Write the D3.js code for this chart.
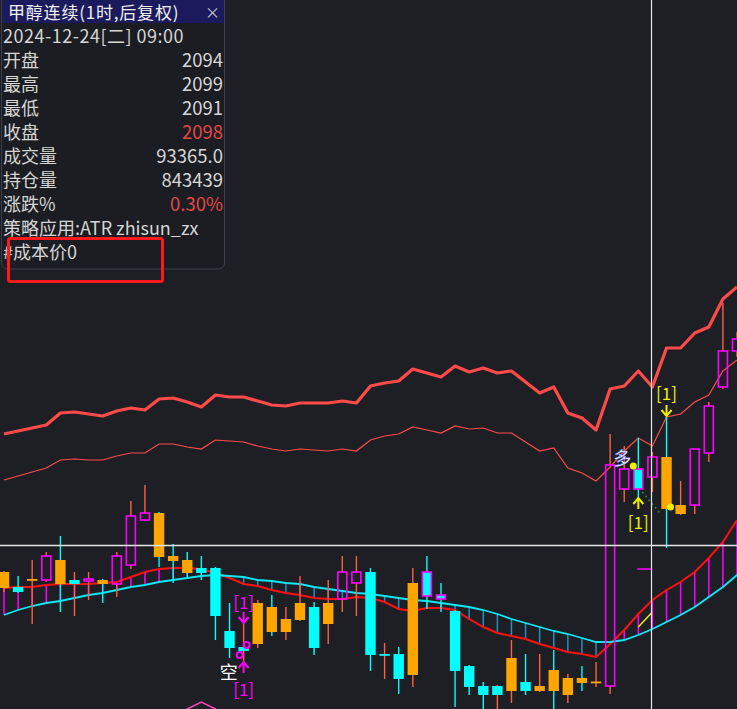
<!DOCTYPE html>
<html><head><meta charset="utf-8">
<script src="https://cdn.jsdelivr.net/npm/d3@7"></script>
<style>html,body{margin:0;padding:0;background:#1e1f24;overflow:hidden}svg{display:block}</style>
</head><body><svg id="c" width="737" height="709"></svg>
<script>
// ---------- data ----------
const opens  = [2075.0,2072.0,2073.6,2073.4,2077.4,2073.4,2073.2,2073.4,2072.6,2076.4,2085.4,2086.8,2078.2,2077.4,2075.8,2075.8,2063.2,2060.0,2068.8,2068.0,2065.6,2068.8,2068.0,2068.8,2069.6,2072.8,2075.0,2058.6,2058.6,2072.8,2070.2,2069.6,2067.2,2056.2,2052.2,2052.2,2057.8,2053.0,2052.2,2055.4,2053.8,2053.8,2053.1,2052.2,2091.6,2095.6,2094,2098.0,2088.4,2088.4,2098.8,2112.0,2119.2];
const highs  = [2075.2,2074.2,2077.4,2079.0,2082.2,2075.0,2075.0,2073.6,2079.0,2089.2,2092.4,2087.0,2080.6,2079.0,2078.2,2076.0,2068.8,2064.8,2069.4,2070.4,2068.0,2074.2,2069.0,2073.4,2078.2,2078.2,2075.8,2060.8,2060.0,2075.8,2078.2,2072.8,2067.4,2056.4,2053.0,2052.4,2061.4,2058.6,2058.6,2059.4,2054.6,2056.2,2057.0,2102.6,2100.2,2101.8,2099,2106.0,2093.2,2099.6,2109.0,2128.8,2123.0];
const lows   = [2071.0,2070.8,2064.6,2073.0,2067.0,2066.2,2069.4,2068.8,2070.0,2075.6,2085.2,2076.0,2072.8,2074.0,2073.4,2061.4,2057.8,2057.0,2059.8,2062.2,2061.4,2065.2,2058.4,2060.6,2067.0,2066.2,2055.2,2053.6,2050.6,2052.0,2067.6,2067.0,2048.0,2050.4,2047.6,2047.6,2048.8,2050.4,2051.0,2047.0,2048.8,2051.2,2052.0,2050.6,2089.0,2089.8,2091,2079.8,2086.4,2086.6,2097.0,2111.6,2118.0];
const closes = [2071.8,2071.0,2073.4,2078.2,2072.6,2072.6,2073.6,2072.6,2078.2,2086.2,2086.8,2078.0,2077.2,2074.8,2074.8,2066.2,2059.8,2059.2,2060.6,2063.0,2063.0,2065.4,2059.8,2064.6,2075.0,2075.0,2058.4,2058.4,2053.6,2054.4,2075.0,2070.4,2055.2,2052.0,2050.4,2050.4,2051.2,2051.2,2051.2,2051.2,2050.4,2052.8,2052.9,2096.4,2095.6,2091.6,2098,2087.6,2086.6,2099.6,2108.2,2119.2,2121.6];
// body style: O = orange filled, C = cyan filled, M = magenta hollow, MC = magenta frame cyan fill
const bodyStyle = ["O","C","O","M","O","C","M","O","M","M","M","O","O","O","C","C","C","C","O","O","O","O","C","O","M","M","C","C","C","O","MC","MC","C","C","C","C","O","C","O","O","O","O","O","M","M","MC","M","O","O","M","M","M","M"];
// wick colour: r = orange-red, c = cyan
const wickStyle = ["r","c","r","r","c","r","r","c","r","r","r","c","c","c","c","c","c","r","r","c","r","r","c","r","r","r","c","r","c","r","c","c","c","c","c","r","r","c","r","c","r","c","r","r","r","c","r","c","r","r","r","r","r"];
const atrUpper = [2102.6,2103.2,2103.8,2104.4,2106.8,2107.0,2106.6,2106.2,2107.2,2107.8,2107.4,2109.6,2109.8,2109.0,2108.0,2110.4,2110.0,2110.0,2109.2,2108.4,2108.2,2108.8,2108.8,2108.8,2109.2,2108.8,2112.2,2112.8,2113.2,2115.6,2114.8,2114.0,2116.2,2115.0,2115.8,2114.8,2115.2,2113.0,2110.8,2112.0,2106.8,2105.8,2103.4,2111.6,2112.2,2115.2,2112.0,2119.8,2119.8,2122.8,2124.0,2129.6,2132.0];
const atrLower = [2093.4,2094.2,2095.0,2095.8,2097.4,2097.6,2097.4,2097.4,2098.2,2098.8,2098.8,2100.6,2100.6,2100.0,2099.6,2101.4,2101.2,2101.0,2100.2,2099.6,2099.2,2099.6,2099.4,2099.2,2099.6,2099.2,2101.4,2102.2,2102.6,2104.0,2103.4,2102.8,2104.2,2103.6,2103.8,2102.8,2102.8,2101.0,2099.2,2099.8,2095.8,2094.8,2093.2,2096.0,2099.2,2101.8,2100.2,2106.0,2106.6,2109.0,2110.4,2115.2,2117.4];
const maRed  = [2071.8,2072.0,2072.0,2072.4,2072.6,2072.6,2072.6,2072.8,2073.0,2074.0,2075.0,2075.6,2075.8,2075.8,2075.6,2074.8,2073.8,2072.6,2072.2,2071.4,2070.8,2070.4,2069.8,2069.6,2069.6,2070.0,2069.8,2069.0,2067.6,2067.2,2067.8,2067.8,2067.4,2065.6,2064.0,2062.8,2062.2,2061.6,2060.6,2059.8,2059.0,2058.6,2058.0,2060.6,2063.4,2066.6,2069.4,2071.4,2073.0,2075.0,2077.8,2081.0,2085.4];
const maCyan = [2066.4,2067.4,2068.2,2068.8,2069.2,2069.8,2070.4,2070.8,2071.4,2072.0,2072.4,2073.0,2073.4,2073.8,2074.2,2074.4,2074.2,2074.0,2073.4,2073.2,2072.8,2072.6,2072.0,2071.6,2071.2,2070.8,2070.6,2070.2,2069.8,2069.4,2069.2,2068.8,2068.4,2068.0,2067.4,2066.6,2065.6,2064.8,2064.0,2063.2,2062.6,2061.8,2061.0,2061.0,2061.4,2062.4,2063.6,2065.0,2066.4,2068.0,2070.0,2072.0,2074.4];
const pinkLine = [null,null,null,null,null,null,null,null,null,null,null,null,2046.0,2047.6,2049.0,2047.6,2046.0,null,null,null,null,null,null,null,null,null,null,null,null,null,null,null,null,null,null,null,null,null,null,null,null,null,null,null,null,null,null,null,null,null,null,null,null];

const titleText = "甲醇连续(1时,后复权)";
const dateText = "2024-12-24[二] 09:00";
const infoLabels = ["开盘","最高","最低","收盘","成交量","持仓量","涨跌%"];
const infoValues = ["2094","2099","2091","2098","93365.0","843439","0.30%"];
const infoRed    = [false,false,false,true,false,false,true];
const strategyText = "策略应用:ATR zhisun_zx";
const costText = "#成本价0";
const crossIndex = 46, crossPrice = 2080.4;

// ---------- setup ----------
const W = 737, H = 709;
const svg = d3.select("#c");
const BG = "#1e1f24";
svg.append("rect").attr("width", W).attr("height", H).attr("fill", BG);
const n = closes.length;
const x = d3.scaleLinear().domain([0, n - 1]).range([4, 737]);
const y = d3.scaleLinear().domain([2047.6, 2189.4]).range([709, 0]);
const idx = d3.range(n);

const ORANGE = "#ffa500", CYAN = "#00ffff", MAG = "#ff00ff", WRED = "#ff6040";

// ATR lines
const lineGen = arr => d3.line().defined(i => arr[i] != null).x(i => x(i)).y(i => y(arr[i]));
svg.append("path").attr("d", lineGen(atrUpper)(idx)).attr("fill", "none")
  .attr("stroke", "#ff4a4a").attr("stroke-width", 3.2).attr("stroke-linejoin", "round");
svg.append("path").attr("d", lineGen(atrLower)(idx)).attr("fill", "none")
  .attr("stroke", "#ff4a4a").attr("stroke-width", 1.2);
svg.append("path").attr("d", lineGen(pinkLine)(idx)).attr("fill", "none")
  .attr("stroke", "#ff40c0").attr("stroke-width", 1.5);

// hatch between red and cyan lines
svg.append("g").selectAll("line").data(idx).join("line")
  .attr("x1", i => x(i)).attr("x2", i => x(i))
  .attr("y1", i => y(maRed[i])).attr("y2", i => y(maCyan[i]))
  .attr("stroke", i => maRed[i] > maCyan[i] ? MAG : "#1f8fc4").attr("stroke-width", 1.5);

svg.append("path").attr("d", lineGen(maRed)(idx)).attr("fill", "none")
  .attr("stroke", "#ff1010").attr("stroke-width", 2);
svg.append("path").attr("d", lineGen(maCyan)(idx)).attr("fill", "none")
  .attr("stroke", "#10e8f8").attr("stroke-width", 1.8);

// candles
const cg = svg.append("g");
idx.forEach(i => {
  const o = opens[i], c = closes[i], h = highs[i], l = lows[i];
  const cx = x(i);
  const top = y(Math.max(o, c)), bot = y(Math.min(o, c));
  const wc = wickStyle[i] === "c" ? CYAN : WRED;
  const st = bodyStyle[i];
  if (st === "M") {
    cg.append("line").attr("x1", cx).attr("x2", cx).attr("y1", y(h)).attr("y2", top).attr("stroke", wc).attr("stroke-width", 1.4);
    cg.append("line").attr("x1", cx).attr("x2", cx).attr("y1", bot).attr("y2", y(l)).attr("stroke", wc).attr("stroke-width", 1.4);
    const hh = Math.max(1.5, bot - top);
    cg.append("rect").attr("x", cx - 4.5).attr("width", 9).attr("y", top).attr("height", hh)
      .attr("fill", "none").attr("stroke", MAG).attr("stroke-width", 1.6);
  } else {
    cg.append("line").attr("x1", cx).attr("x2", cx).attr("y1", y(h)).attr("y2", y(l)).attr("stroke", wc).attr("stroke-width", 1.4);
    const hh = Math.max(1.8, bot - top);
    const fill = st === "O" ? ORANGE : CYAN;
    if (st === "MC") {
      cg.append("rect").attr("x", cx - 4.5).attr("width", 9).attr("y", top).attr("height", hh)
        .attr("fill", CYAN).attr("stroke", MAG).attr("stroke-width", 1.6);
    } else {
      cg.append("rect").attr("x", cx - 5.2).attr("width", 10.4).attr("y", top).attr("height", hh).attr("fill", fill);
    }
  }
});

// ---------- signal markers ----------
const mg = svg.append("g").attr("font-family", "'Noto Sans CJK SC', sans-serif");
function arrow(cx, y0, dir, color) { // dir: 1 = pointing down, -1 = pointing up
  const tip = dir === 1 ? y0 + 11 : y0;
  const tail = dir === 1 ? y0 : y0 + 11;
  mg.append("line").attr("x1", cx).attr("x2", cx).attr("y1", tail).attr("y2", tip).attr("stroke", color).attr("stroke-width", 2);
  mg.append("path").attr("d", `M${cx - 5},${tip - 6 * dir} L${cx},${tip} L${cx + 5},${tip - 6 * dir}`)
    .attr("fill", "none").attr("stroke", color).attr("stroke-width", 2);
}
function tag(cx, baseline, color) {
  mg.append("text").attr("x", cx).attr("y", baseline).attr("text-anchor", "middle")
    .attr("font-size", 17).attr("fill", color).text("[1]");
}
const YEL = "#f0f000";
// short signal at candle 17
{
  const i = 17, cx = x(i);
  tag(cx, y(highs[i]) - 14, MAG);
  arrow(cx, y(highs[i]) - 11, 1, MAG);
  mg.append("circle").attr("cx", cx + 3).attr("cy", y(opens[i]) - 2).attr("r", 3).attr("fill", "none").attr("stroke", MAG).attr("stroke-width", 2);
  mg.append("circle").attr("cx", cx - 4).attr("cy", y(closes[i]) + 4).attr("r", 3).attr("fill", "none").attr("stroke", MAG).attr("stroke-width", 2);
  arrow(cx, y(lows[i]), -1, MAG);
  mg.append("text").attr("x", cx - 6).attr("y", y(lows[i]) + 17).attr("text-anchor", "end")
    .attr("font-size", 18).attr("fill", "#ffffff").text("空");
  tag(cx, y(lows[i]) + 34, MAG);
}
// long signal at candle 45, exit at 47
{
  const i = 45, cx = x(i);
  arrow(cx, y(lows[i]), -1, YEL);
  tag(cx, y(lows[i]) + 31, YEL);
  mg.append("text").attr("x", x(44) - 11).attr("y", y(closes[44]) - 4)
    .attr("font-size", 18).attr("fill", "#ffffff").attr("stroke", "#4a6cff").attr("stroke-width", 0.4).text("多");
  mg.append("circle").attr("cx", cx - 5).attr("cy", y(opens[i]) - 3).attr("r", 3.5).attr("fill", YEL);
  const j = 47, jx = x(j);
  tag(jx, y(highs[j]) - 17, YEL);
  arrow(jx, y(highs[j]) - 12, 1, YEL);
  mg.append("circle").attr("cx", jx + 4).attr("cy", y(closes[j]) - 2).attr("r", 3.5).attr("fill", YEL);
  mg.append("line").attr("x1", cx + 4).attr("y1", y(closes[i]) + 3).attr("x2", jx - 5).attr("y2", y(closes[j]) + 6)
    .attr("stroke", "#22aa22").attr("stroke-width", 1.6).attr("stroke-dasharray", "1.5,3.5");
  // small marks in the lower band
  mg.append("line").attr("x1", cx - 1).attr("x2", x(46)).attr("y1", y(2075.6)).attr("y2", y(2075.6)).attr("stroke", MAG).attr("stroke-width", 1.5);
  mg.append("line").attr("x1", cx).attr("x2", x(46) - 1).attr("y1", y(2064.0)).attr("y2", y(2066.8)).attr("stroke", YEL).attr("stroke-width", 1.5);
}

// ---------- crosshair ----------
const chx = Math.round(x(crossIndex)) - 0.5;
svg.append("line").attr("x1", chx).attr("x2", chx).attr("y1", 0).attr("y2", H).attr("stroke", "#e6e6e6").attr("stroke-width", 1.2);
svg.append("line").attr("x1", 0).attr("x2", W).attr("y1", Math.round(y(crossPrice)) + 0.5).attr("y2", Math.round(y(crossPrice)) + 0.5)
  .attr("stroke", "#e6e6e6").attr("stroke-width", 1.3);

// ---------- info panel ----------
const pg = svg.append("g").attr("font-family", "'Noto Sans CJK SC', 'Noto Sans', sans-serif");
pg.append("rect").attr("x", 1.5).attr("y", -8).attr("width", 223).attr("height", 277).attr("rx", 6)
  .attr("fill", "#1c1d22").attr("stroke", "#3c3f48").attr("stroke-width", 1);
pg.append("rect").attr("x", 2).attr("y", 0).attr("width", 222).attr("height", 23).attr("fill", "#1b1a5c");
pg.append("text").attr("x", 8).attr("y", 18.5).attr("font-size", 17).attr("letter-spacing", 0.8).attr("fill", "#f0f0f0").text(titleText);
pg.append("text").attr("x", 205).attr("y", 17.5).attr("font-size", 15).attr("fill", "#c8c8d0").text("×");
const TXT = "#d6d6d6", RED = "#e04848";
pg.append("text").attr("x", 3).attr("y", 43).attr("font-size", 18).attr("letter-spacing", 0.5).attr("fill", TXT).text(dateText);
infoLabels.forEach((lab, k) => {
  const by = 67 + k * 24;
  pg.append("text").attr("x", 3).attr("y", by).attr("font-size", 18).attr("fill", TXT).text(lab);
  pg.append("text").attr("x", 223).attr("y", by).attr("font-size", 18.5).attr("text-anchor", "end")
    .attr("fill", infoRed[k] ? RED : TXT).text(infoValues[k]);
});
pg.append("text").attr("x", 3).attr("y", 235).attr("font-size", 18).attr("fill", TXT).text(strategyText);
pg.append("text").attr("x", 3).attr("y", 259).attr("font-size", 18).attr("fill", TXT).text(costText);
pg.append("rect").attr("x", 8.5).attr("y", 238.5).attr("width", 154).attr("height", 43).attr("rx", 2)
  .attr("fill", "none").attr("stroke", "#ff1a1a").attr("stroke-width", 3);
</script></body></html>
